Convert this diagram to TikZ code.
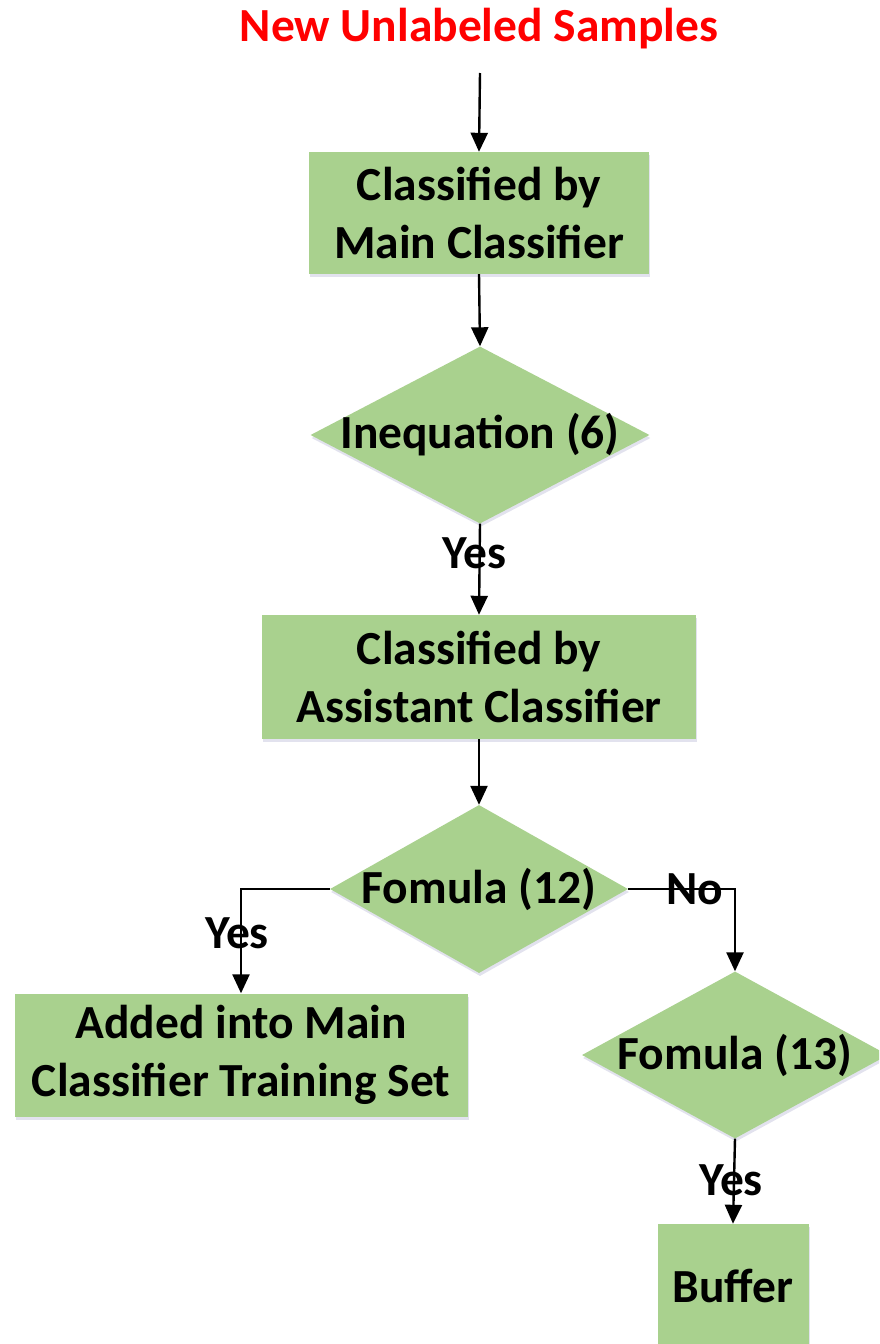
\documentclass[tikz,border=0pt]{standalone}
\usepackage{fontspec}
\setmainfont{Carlito}
\usetikzlibrary{arrows.meta,shapes.geometric,shadows}
\definecolor{boxgreen}{RGB}{169,209,142}
\definecolor{titlered}{RGB}{255,0,0}
\begin{document}
\begin{tikzpicture}[x=1pt,y=-1pt,
  every node/.style={font=\fontsize{47.5}{58}\selectfont\bfseries},
  softshadow/.style={drop shadow={shadow xshift=1pt,shadow yshift=-3pt,fill=blue!25!gray,opacity=0.18}},
  stepbox/.style={rectangle,fill=boxgreen,inner sep=0pt,align=center,softshadow},
  decision/.style={diamond,fill=boxgreen,inner sep=0pt,softshadow},
  flow/.style={line width=2.4pt,-{Triangle[width=17pt,length=19pt]}},
  lbl/.style={inner sep=0pt}
]
\clip (0,0) rectangle (879,1344);
\useasboundingbox (0,0) rectangle (879,1344);

% title and entry point
\node[text=titlered] (title) at (479,29) {New Unlabeled Samples};
\coordinate (start) at (480,73);

% main column
\node[stepbox,minimum width=340,minimum height=122] (b1) at (479,213)
  {Classified by\\Main Classifier};
\node[decision,minimum width=339,minimum height=177,
  label={center:Inequation (6)}] (d1) at (480,435) {};
\node[stepbox,minimum width=434,minimum height=124] (b2) at (479,677)
  {Classified by\\Assistant Classifier};
\node[decision,minimum width=298,minimum height=168,
  label={center:Fomula (12)}] (d2) at (479,889) {};

% branches
\node[stepbox,minimum width=453,minimum height=123] (b3) at (241,1055)
  {Added into Main\\Classifier Training Set};
\node[decision,minimum width=306,minimum height=167,
  label={center:Fomula (13)}] (d3) at (735,1055) {};
\node[stepbox,minimum width=151,minimum height=124] (buf) at (733,1286)
  {Buffer};

% connectors
\draw[flow] (start) -- (b1.north);
\draw[flow] (b1.south) -- (d1.north);
\draw[flow] (d1.south) -- node[lbl,pos=0.33,xshift=-5pt] {Yes} (b2.north);
\draw[flow] (b2.south) -- (d2.north);
\draw[flow] (d2.west) -| node[lbl,pos=0.71,xshift=-4pt] {Yes} (b3.north);
\draw[flow] (d2.east) -| node[lbl,pos=0.31] {No} (d3.north);
\draw[flow] (d3.south) -- node[lbl,pos=0.49,xshift=-3pt] {Yes} (buf.north);
\end{tikzpicture}
\end{document}
